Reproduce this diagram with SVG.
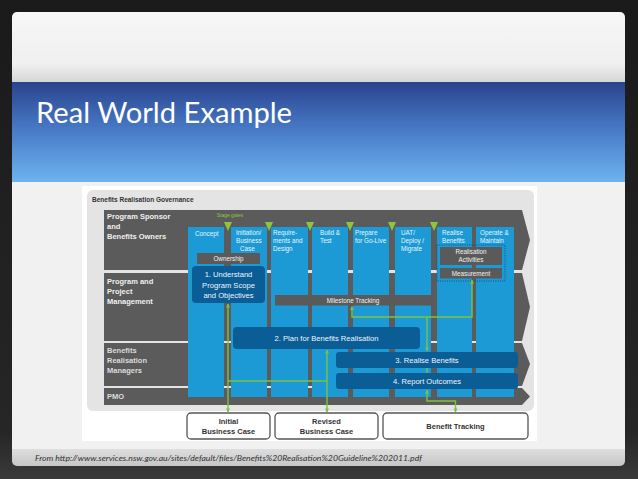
<svg xmlns="http://www.w3.org/2000/svg" width="638" height="479" viewBox="0 0 638 479">
<defs>
  <linearGradient id="bg" x1="0" y1="0" x2="0" y2="1">
    <stop offset="0" stop-color="#1a1a1a"/>
    <stop offset="0.9" stop-color="#262626"/>
    <stop offset="1" stop-color="#3a3a3a"/>
  </linearGradient>
  <linearGradient id="topWhite" x1="0" y1="0" x2="0" y2="1">
    <stop offset="0" stop-color="#f7f7f7"/>
    <stop offset="0.75" stop-color="#efefef"/>
    <stop offset="1" stop-color="#d6d6d6"/>
  </linearGradient>
  <linearGradient id="blueBand" x1="0" y1="0" x2="0" y2="1">
    <stop offset="0" stop-color="#2a438d"/>
    <stop offset="0.45" stop-color="#4677c4"/>
    <stop offset="1" stop-color="#6eb3ef"/>
  </linearGradient>
  <linearGradient id="footer" x1="0" y1="0" x2="0" y2="1">
    <stop offset="0" stop-color="#dedede"/>
    <stop offset="1" stop-color="#c6c6c6"/>
  </linearGradient>
  <clipPath id="slideClip">
    <rect x="12" y="12" width="613" height="454" rx="5"/>
  </clipPath>
  <marker id="ah" viewBox="0 0 10 10" refX="9" refY="5" markerWidth="4" markerHeight="4" orient="auto-start-reverse" markerUnits="userSpaceOnUse">
    <path d="M0,0 L10,5 L0,10 Z" fill="#7dc242"/>
  </marker>
  <style>
    .row { fill: #5b5b5b; }
    .col { fill: #1b9ad6; }
    .dark { fill: #0b5d96; }
    .gray { fill: #5a5a5a; }
    .gate { fill: #8cc63f; }
    .lbl { font-family: "Liberation Sans", Arial, sans-serif; font-weight: bold; font-size: 7.5px; fill: #f0f0f0; }
    .lbl2 { font-family: "Liberation Sans", Arial, sans-serif; font-weight: bold; font-size: 7.5px; fill: #dcdcdc; }
    .colt { font-family: "Liberation Sans", Arial, sans-serif; font-size: 6.3px; fill: #e8f4fb; }
    .boxt { font-family: "Liberation Sans", Arial, sans-serif; font-size: 6.3px; fill: #f2f2f2; text-anchor: middle; }
    .bigt { font-family: "Liberation Sans", Arial, sans-serif; font-size: 7.6px; fill: #eef5fb; text-anchor: middle; }
    .outb { fill: #ffffff; stroke: #555555; stroke-width: 1.3; }
    .outt { font-family: "Liberation Sans", Arial, sans-serif; font-weight: bold; font-size: 7.5px; fill: #333333; text-anchor: middle; }
    .conn { fill: none; stroke: #7dc242; stroke-width: 1.4; }
  </style>
</defs>

<rect x="0" y="0" width="638" height="479" fill="url(#bg)"/>

<g id="slide" clip-path="url(#slideClip)">
  <rect x="12" y="12" width="613" height="70" fill="url(#topWhite)"/>
  <rect x="12" y="82" width="613" height="100" fill="url(#blueBand)"/>
  <rect x="12" y="182" width="613" height="267" fill="#f1f1f1"/>
  <rect x="12" y="449" width="613" height="17" fill="url(#footer)"/>
</g>

<g id="title">
  <text x="36" y="123" font-family="Lato, 'Open Sans', sans-serif" font-size="28" fill="#ffffff" textLength="256" lengthAdjust="spacingAndGlyphs">Real World Example</text>
</g>

<g id="source">
  <text x="35" y="461" font-family="Lato, 'Liberation Sans', sans-serif" font-style="italic" font-size="8.5" fill="#333333" textLength="387" lengthAdjust="spacingAndGlyphs">From http://www.services.nsw.gov.au/sites/default/files/Benefits%20Realisation%20Guideline%202011.pdf</text>
</g>

<g id="diagram">
  <rect x="82" y="186" width="455" height="255" fill="#ffffff"/>
  <rect x="87" y="190" width="447" height="221" rx="6" fill="#e4e4e4"/>
  <text x="92" y="202" font-family="'Liberation Sans', Arial, sans-serif" font-weight="bold" font-size="6.5" fill="#333333">Benefits Realisation Governance</text>

  <g id="rows">
    <path class="row" d="M104,210 H522 L530,240 L522,270 H104 Z"/>
    <path class="row" d="M104,273 H522 L530,307 L522,341 H104 Z"/>
    <path class="row" d="M104,343 H522 L530,364 L522,386 H104 Z"/>
    <path class="row" d="M104,388 H522 L530,396.5 L522,405 H104 Z"/>
  </g>

  <g id="row-labels">
    <text class="lbl" x="107" y="219">Program Sponsor</text>
    <text class="lbl" x="107" y="228.5">and</text>
    <text class="lbl" x="107" y="238.5">Benefits Owners</text>
    <text class="lbl" x="107" y="284">Program and</text>
    <text class="lbl" x="107" y="293.5">Project</text>
    <text class="lbl" x="107" y="303.5">Management</text>
    <text class="lbl2" x="107" y="353">Benefits</text>
    <text class="lbl2" x="107" y="363">Realisation</text>
    <text class="lbl2" x="107" y="373">Managers</text>
    <text class="lbl2" x="107" y="399">PMO</text>
  </g>

  <g id="columns">
    <rect class="col" x="188" y="227" width="36" height="170"/>
    <rect class="col" x="231" y="227" width="36" height="170"/>
    <rect class="col" x="271" y="227" width="37" height="170"/>
    <rect class="col" x="312" y="227" width="36" height="170"/>
    <rect class="col" x="353" y="227" width="36" height="170"/>
    <rect class="col" x="395" y="227" width="36" height="170"/>
    <rect class="col" x="437" y="227" width="35" height="170"/>
    <rect class="col" x="476" y="227" width="38" height="170"/>
  </g>

  <g id="column-labels">
    <text class="colt" x="195" y="236">Concept</text>
    <text class="colt" x="236" y="235">Initiation/</text>
    <text class="colt" x="236" y="243">Business</text>
    <text class="colt" x="240" y="251">Case</text>
    <text class="colt" x="273" y="235">Require-</text>
    <text class="colt" x="273" y="243">ments and</text>
    <text class="colt" x="273" y="251">Design</text>
    <text class="colt" x="320" y="235">Build &amp;</text>
    <text class="colt" x="320" y="243">Test</text>
    <text class="colt" x="355" y="235">Prepare</text>
    <text class="colt" x="355" y="243">for Go-Live</text>
    <text class="colt" x="401" y="235">UAT/</text>
    <text class="colt" x="401" y="243">Deploy /</text>
    <text class="colt" x="401" y="251">Migrate</text>
    <text class="colt" x="442" y="235">Realise</text>
    <text class="colt" x="442" y="243">Benefits</text>
    <text class="colt" x="480" y="235">Operate &amp;</text>
    <text class="colt" x="480" y="243">Maintain</text>
  </g>

  <g id="stage-gates">
    <text x="230" y="217" font-family="'Liberation Sans', Arial, sans-serif" font-size="5" fill="#8cc63f" text-anchor="middle">Stage gates</text>
    <path class="gate" d="M224,222 H232 L228,231 Z"/>
    <path class="gate" d="M265,222 H273 L269,231 Z"/>
    <path class="gate" d="M306,222 H314 L310,231 Z"/>
    <path class="gate" d="M346,222 H354 L350,231 Z"/>
    <path class="gate" d="M388,222 H396 L392,231 Z"/>
    <path class="gate" d="M430,222 H438 L434,231 Z"/>
  </g>

  <g id="ownership">
    <rect class="gray" x="197" y="253" width="63" height="11"/>
    <text class="boxt" x="228.5" y="261">Ownership</text>
  </g>

  <g id="understand">
    <rect class="dark" x="192" y="266" width="73" height="37" rx="4"/>
    <text class="bigt" x="228.5" y="277">1. Understand</text>
    <text class="bigt" x="228.5" y="287.5">Program Scope</text>
    <text class="bigt" x="228.5" y="298">and Objectives</text>
  </g>

  <g id="realisation-activities">
    <rect x="437" y="245" width="68" height="36" fill="none" stroke="#0b4f80" stroke-width="0.9" stroke-dasharray="1,1.3"/>
    <rect class="gray" x="440" y="247" width="62" height="18"/>
    <text class="boxt" x="471" y="254">Realisation</text>
    <text class="boxt" x="471" y="262">Activities</text>
  </g>

  <g id="measurement">
    <rect class="gray" x="440" y="268" width="62" height="10.5"/>
    <text class="boxt" x="471" y="275.5">Measurement</text>
  </g>

  <g id="milestone">
    <rect class="gray" x="275" y="295" width="157" height="10.5"/>
    <text class="boxt" x="353" y="302.5">Milestone Tracking</text>
  </g>

  <g id="plan">
    <rect class="dark" x="233" y="327" width="187" height="22" rx="4"/>
    <text class="bigt" x="326.5" y="341">2. Plan for Benefits Realisation</text>
  </g>

  <g id="realise">
    <rect class="dark" x="336" y="352" width="182" height="16" rx="3"/>
    <text class="bigt" x="427" y="362.5">3. Realise Benefits</text>
  </g>

  <g id="report">
    <rect class="dark" x="336" y="373" width="182" height="16" rx="3"/>
    <text class="bigt" x="427" y="383.5">4. Report Outcomes</text>
  </g>

  <g id="initial-business-case">
    <rect class="outb" x="187" y="413" width="83" height="26" rx="4"/>
    <text class="outt" x="228.5" y="424">Initial</text>
    <text class="outt" x="228.5" y="434">Business Case</text>
  </g>

  <g id="revised-business-case">
    <rect class="outb" x="275" y="413" width="103" height="26" rx="4"/>
    <text class="outt" x="326.5" y="424">Revised</text>
    <text class="outt" x="326.5" y="434">Business Case</text>
  </g>

  <g id="benefit-tracking">
    <rect class="outb" x="383" y="413" width="145" height="26" rx="4"/>
    <text class="outt" x="455.5" y="429">Benefit Tracking</text>
  </g>

  <g id="connectors">
    <path class="conn" d="M228,304 V412" marker-start="url(#ah)" marker-end="url(#ah)"/>
    <path class="conn" d="M228,381 H327"/>
    <path class="conn" d="M327,350 V412" marker-start="url(#ah)" marker-end="url(#ah)"/>
    <path class="conn" d="M472,280 V317 H352 V306.5" marker-start="url(#ah)" marker-end="url(#ah)"/>
    <path class="conn" d="M427,317 V351" marker-end="url(#ah)"/>
    <path class="conn" d="M427,368 V373"/>
    <path class="conn" d="M427,390 V401 H455.5 V412" marker-start="url(#ah)" marker-end="url(#ah)"/>
  </g>
</g>
</svg>
